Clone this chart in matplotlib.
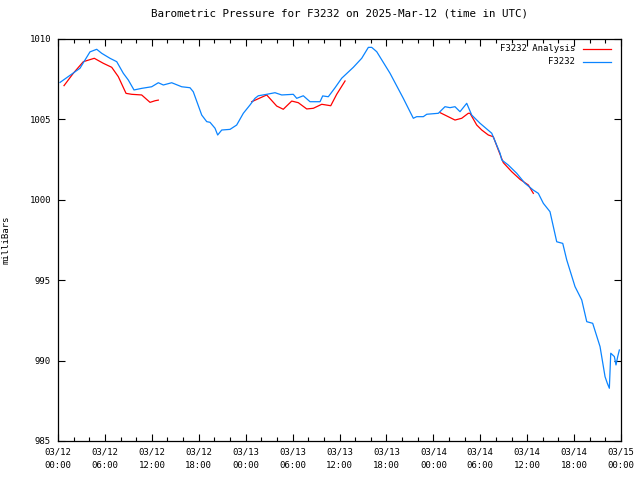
import numpy as np
import pandas as pd
import matplotlib
matplotlib.use('Agg')
import matplotlib.pyplot as plt
import matplotlib.dates as mdates

plt.rcParams['font.family'] = ['DejaVu Sans Mono']
plt.rcParams['font.size'] = 6.5

start = pd.Timestamp('2025-03-12 00:00')

# station observations (hours since 03/12 00:00 UTC, mb)
obs_hours = [0.26, 2.81, 4.09, 4.95, 5.59, 6.65, 7.51, 8.35, 8.99, 9.72, 10.70,
             11.98, 12.83, 13.47, 14.54, 15.82, 16.88, 17.30, 18.38, 19.02,
             19.44, 20.08, 20.42, 20.94, 22.00, 22.85, 23.70, 24.56, 25.19,
             25.62, 26.69, 27.75, 28.61, 30.09, 30.53, 31.37, 32.23, 33.51,
             33.85, 34.57, 35.43, 36.28, 37.77, 38.84, 39.69, 40.12, 40.76,
             42.46, 44.16, 45.44, 45.87, 46.72, 47.16, 48.64, 49.49, 50.13,
             50.77, 51.41, 52.27, 52.91, 53.97, 55.47, 56.53, 56.75, 57.59,
             58.66, 59.73, 60.79, 61.43, 62.07, 62.92, 63.78, 64.55, 65.06,
             66.12, 66.98, 67.62, 68.38, 69.32, 69.96, 70.25, 70.51, 70.69,
             71.15, 71.36, 71.58, 71.79]
obs_pres = [1007.3, 1008.18, 1009.2, 1009.36, 1009.11, 1008.8, 1008.59, 1007.87,
            1007.45, 1006.83, 1006.93, 1007.03, 1007.28, 1007.14, 1007.28, 1007.03,
            1006.97, 1006.72, 1005.27, 1004.86, 1004.82, 1004.45, 1004.03, 1004.34,
            1004.38, 1004.65, 1005.38, 1005.9, 1006.31, 1006.47, 1006.56, 1006.66,
            1006.52, 1006.56, 1006.31, 1006.47, 1006.1, 1006.1, 1006.46, 1006.41,
            1006.97, 1007.56, 1008.24, 1008.8, 1009.48, 1009.48, 1009.21, 1007.87,
            1006.31, 1005.07, 1005.17, 1005.17, 1005.32, 1005.38, 1005.79, 1005.73,
            1005.79, 1005.48, 1006.0, 1005.27, 1004.76, 1004.14, 1002.9, 1002.48,
            1002.16, 1001.65, 1001.02, 1000.6, 1000.4, 999.78, 999.26, 997.39,
            997.29, 996.26, 994.6, 993.77, 992.42, 992.32, 990.87, 989.0, 988.59,
            988.28, 990.46, 990.25, 989.73, 990.25, 990.66]

# analysis segments (gaps between them)
ana_hours = [[0.77, 1.96, 3.24, 4.64, 5.79, 6.87, 7.71, 8.70, 9.43, 10.70, 11.77,
              12.41, 12.83],
             [24.77, 26.69, 27.97, 28.81, 29.89, 30.73, 31.81, 32.65, 33.73,
              34.88, 35.64, 36.71],
             [48.86, 50.77, 51.63, 52.47, 52.69, 53.55, 54.19, 55.03, 55.67,
              56.31, 56.95, 58.02, 59.09, 60.15, 60.79]]
ana_pres = [[1007.1, 1007.87, 1008.59, 1008.8, 1008.49, 1008.24, 1007.66,
             1006.62, 1006.56, 1006.52, 1006.06, 1006.16, 1006.2],
            [1006.1, 1006.52, 1005.83, 1005.63, 1006.14, 1006.04, 1005.65,
             1005.69, 1005.94, 1005.85, 1006.56, 1007.39],
            [1005.42, 1004.96, 1005.07, 1005.38, 1005.38, 1004.65, 1004.34,
             1004.03, 1003.92, 1003.1, 1002.31, 1001.75, 1001.27, 1000.92, 1000.4]]

RED = '#ff0000'
BLUE = '#0a84ff'

fig = plt.figure(figsize=(6.4, 4.8), dpi=100)
ax = fig.add_axes([58 / 640, 1 - 441 / 480, 563 / 640, 402 / 480])

for h, p in zip(ana_hours, ana_pres):
    t = start + pd.to_timedelta(h, unit='h')
    ax.plot(t, p, color=RED, lw=0.9)

t_obs = start + pd.to_timedelta(obs_hours, unit='h')
ax.plot(t_obs, obs_pres, color=BLUE, lw=0.9)

ax.set_xlim(start, start + pd.Timedelta(hours=72))
ax.set_ylim(985, 1010)
ax.set_yticks(np.arange(985, 1011, 5))
ax.xaxis.set_major_locator(mdates.HourLocator(byhour=[0, 6, 12, 18]))
ax.xaxis.set_minor_locator(mdates.HourLocator(byhour=range(0, 24, 2)))
ax.xaxis.set_major_formatter(mdates.DateFormatter('%m/%d\n%H:%M'))
ax.tick_params(which='both', direction='in', top=True, right=True, width=0.8)
ax.tick_params(which='major', length=5, pad=5)
ax.tick_params(which='minor', length=3)
for lbl in ax.get_xticklabels():
    lbl.set_linespacing(1.6)
for s in ax.spines.values():
    s.set_linewidth(0.9)

ax.set_ylabel('milliBars')
ax.yaxis.set_label_coords(-0.085, 0.5)
ax.set_title('Barometric Pressure for F3232 on 2025-Mar-12 (time in UTC)', pad=16)

# gnuplot style key: text right aligned, sample line to the right
for i, (lab, col) in enumerate([('F3232 Analysis', RED), ('F3232', BLUE)]):
    y = 1 - (10 + 13 * i) / 402
    ax.text(0.918, y, lab, transform=ax.transAxes, ha='right', va='center')
    ax.plot([0.932, 0.982], [y, y], transform=ax.transAxes, color=col, lw=0.9)

fig.savefig('out.png', dpi=100)
